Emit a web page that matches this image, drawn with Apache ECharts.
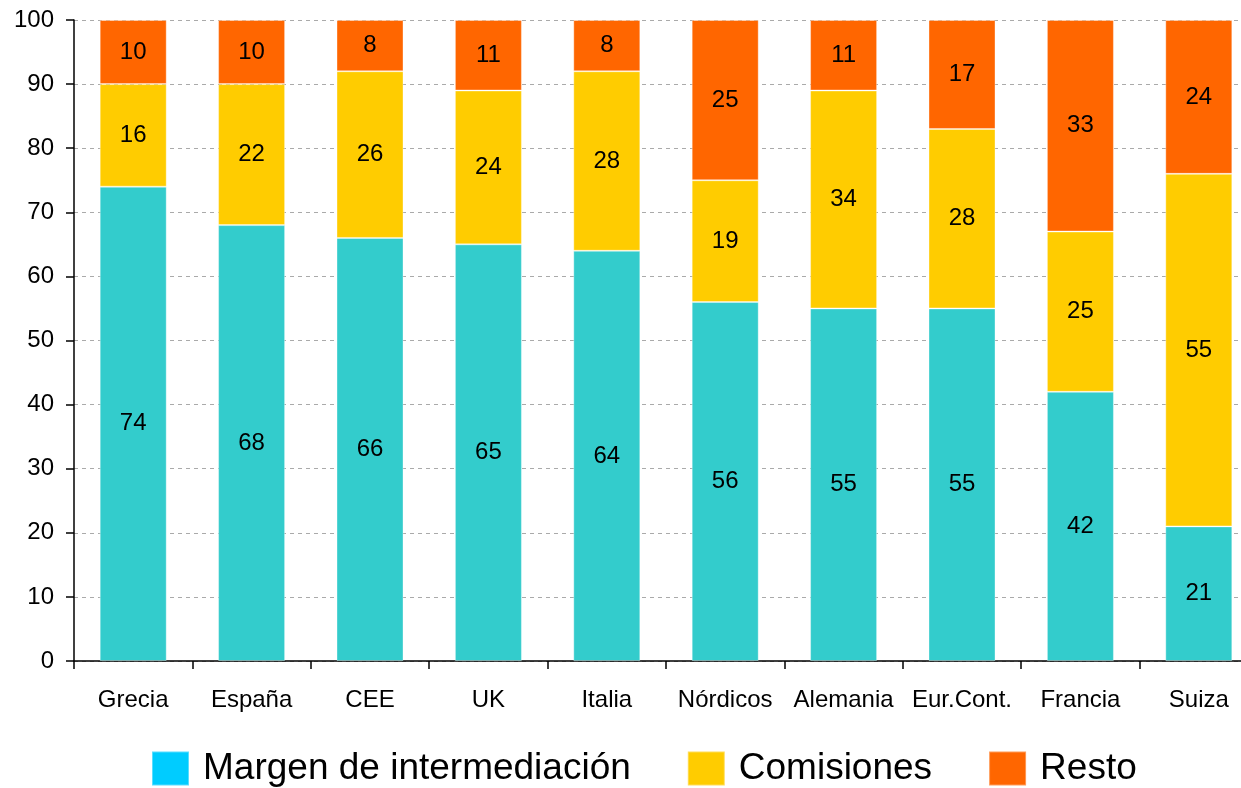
<!DOCTYPE html>
<html>
<head>
<meta charset="utf-8">
<script src="https://cdn.jsdelivr.net/npm/echarts@6/dist/echarts.min.js"></script>
<style>
  html, body { margin: 0; padding: 0; background: #ffffff; overflow: hidden; }
  #chart { width: 1258px; height: 788px; }
</style>
</head>
<body>
<div id="chart"></div>
<script>
// Composition of income by country (% of total)
const categories = ['Grecia', 'España', 'CEE', 'UK', 'Italia', 'Nórdicos', 'Alemania', 'Eur.Cont.', 'Francia', 'Suiza'];
const margen = [74, 68, 66, 65, 64, 56, 55, 55, 42, 21];
const comisiones = [16, 22, 26, 24, 28, 19, 34, 28, 25, 55];
const resto = [10, 10, 8, 11, 8, 25, 11, 17, 33, 24];
const yTicks = [0, 10, 20, 30, 40, 50, 60, 70, 80, 90, 100];

const FONT = '"Liberation Sans", Arial, sans-serif';

function barSeries(name, data, color) {
  return {
    name: name,
    type: 'bar',
    stack: 'total',
    data: data,
    barWidth: 67,
    itemStyle: { color: color, borderColor: 'rgba(255,255,255,0.35)', borderWidth: 1 },
    label: {
      show: true,
      position: 'inside',
      color: '#000',
      fontFamily: FONT,
      fontSize: 24
    },
    emphasis: { disabled: true }
  };
}

const chart = echarts.init(document.getElementById('chart'), null, { renderer: 'canvas' });
chart.setOption({
  animation: false,
  backgroundColor: '#ffffff',
  grid: { left: 74, right: 0, top: 20, bottom: 127, containLabel: false },
  legend: {
    left: 146,
    top: 745,
    itemWidth: 37,
    itemHeight: 34,
    itemGap: 56,
    icon: 'rect',
    textStyle: { fontFamily: FONT, fontSize: 37, color: '#000', padding: [0, 0, 0, 9] },
    data: [
      { name: 'Margen de intermediación', itemStyle: { color: '#00CCFF' } },
      { name: 'Comisiones', itemStyle: { color: '#FFCC00' } },
      { name: 'Resto', itemStyle: { color: '#FF6600' } }
    ]
  },
  xAxis: {
    type: 'category',
    data: categories,
    axisLine: { show: true, lineStyle: { color: '#000', width: 1.5 } },
    axisTick: { show: true, interval: 0, length: 8, lineStyle: { color: '#000', width: 1.5 } },
    axisLabel: { interval: 0, color: '#000', fontFamily: FONT, fontSize: 24, margin: 27 }
  },
  yAxis: {
    type: 'value',
    min: 0,
    max: 100,
    interval: 10,
    axisLine: { show: true, lineStyle: { color: '#000', width: 1.5 } },
    axisTick: { show: true, length: 8, lineStyle: { color: '#000', width: 1.5 } },
    axisLabel: {
      color: '#000', fontFamily: FONT, fontSize: 24, margin: 20,
      formatter: function (v) { return yTicks.indexOf(v) >= 0 ? String(v) : ''; }
    },
    splitLine: { show: true, lineStyle: { color: '#aaaaaa', type: [4, 4], width: 1 } }
  },
  series: [
    barSeries('Margen de intermediación', margen, '#33CCCC'),
    barSeries('Comisiones', comisiones, '#FFCC00'),
    barSeries('Resto', resto, '#FF6600')
  ]
});
</script>
</body>
</html>
